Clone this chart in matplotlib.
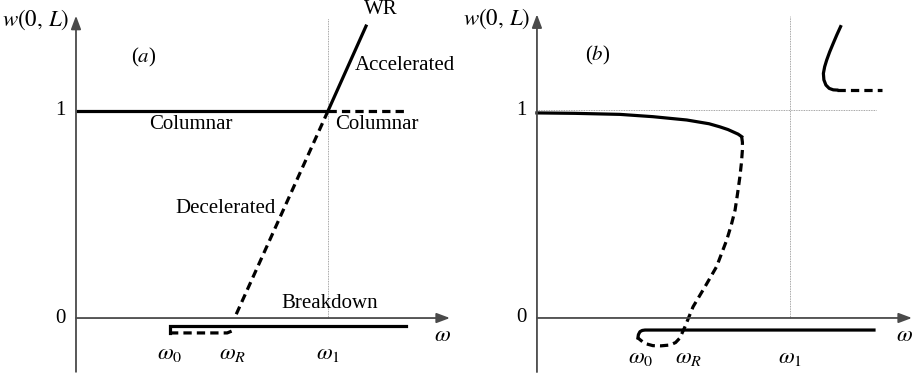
import numpy as np
import matplotlib.pyplot as plt

plt.rcParams['font.family'] = ['Liberation Serif', 'DejaVu Serif']
plt.rcParams['mathtext.fontset'] = 'stix'

# panel (a): piecewise-linear branches (omega_1 = 1, columnar state = 1)
a_columnar_x = [0.0, 1.0]
a_columnar_y = [1.0, 1.0]
a_columnar_dash_x = [1.0, 1.317]
a_columnar_dash_y = [1.0, 1.0]
a_accel_x = [1.0, 1.151]
a_accel_y = [1.0, 1.41]
a_decel_x = [1.0, 0.631]
a_decel_y = [1.0, 0.005]
a_break_x = [0.373, 0.373, 1.31]
a_break_y = [-0.072, -0.039, -0.039]
a_break_dash_x = [0.373, 0.60, 0.62, 0.631]
a_break_dash_y = [-0.072, -0.072, -0.062, -0.039]

# panel (b): smooth branches
b_upper_x = [0.0, 0.15, 0.328, 0.458, 0.592, 0.680, 0.723, 0.755, 0.775, 0.795, 0.809]
b_upper_y = [0.986, 0.984, 0.979, 0.968, 0.952, 0.934, 0.919, 0.906, 0.895, 0.884, 0.872]
b_mid_x = [0.809, 0.812, 0.812, 0.808, 0.802, 0.793, 0.783, 0.768, 0.750, 0.710, 0.664,
           0.617, 0.585, 0.565, 0.548, 0.526, 0.490, 0.458, 0.425, 0.399]
b_mid_y = [0.872, 0.845, 0.808, 0.745, 0.679, 0.600, 0.519, 0.447, 0.375, 0.247, 0.150,
           0.054, -0.042, -0.096, -0.118, -0.130, -0.134, -0.133, -0.122, -0.096]
b_low_x = [0.399, 0.401, 0.407, 0.416, 0.427, 1.332]
b_low_y = [-0.096, -0.080, -0.066, -0.060, -0.058, -0.058]
b_wr_x = [1.200, 1.185, 1.171, 1.157, 1.145, 1.137, 1.132, 1.134, 1.142, 1.155, 1.171, 1.185]
b_wr_y = [1.401, 1.361, 1.321, 1.280, 1.240, 1.208, 1.176, 1.145, 1.120, 1.104, 1.097, 1.096]
b_wr_dash_x = [1.185, 1.362]
b_wr_dash_y = [1.096, 1.096]

omega_ticks_a = [0.373, 0.62, 1.0]
omega_ticks_b = [0.41, 0.60, 1.0]
omega_labels = [r'$\omega_0$', r'$\omega_R$', r'$\omega_1$']

fig = plt.figure(figsize=(9.16, 3.76), dpi=100)
ax_a = fig.add_axes([0, 0, 458 / 916, 1])
ax_b = fig.add_axes([458 / 916, 0, 458 / 916, 1])

LW = 2.3
DASH = (0, (2.6, 1.6))
FS = 15
FS_MATH = 16.5
AXC = '#4a4a4a'


def draw_frame(ax, xlim, ylim, xarrow, yarrow, ybottom):
    ax.set_xlim(*xlim)
    ax.set_ylim(*ylim)
    ax.axis('off')
    arrow = dict(arrowstyle='-|>,head_length=0.8,head_width=0.3', color=AXC, lw=1.3,
                 shrinkA=0, shrinkB=0)
    ax.annotate('', xy=(xarrow, 0), xytext=(0, 0), arrowprops=arrow)
    ax.annotate('', xy=(0, yarrow), xytext=(0, ybottom), arrowprops=arrow)
    ax.text(-0.04, 1.0, '1', ha='right', va='center', fontsize=FS)
    ax.text(-0.04, 0.0, '0', ha='right', va='center', fontsize=FS)
    ax.text(-0.16, yarrow - 0.02, r'$w(0,\, L)$', ha='center', va='center', fontsize=FS_MATH)
    ax.text(xarrow - 0.03, -0.085, r'$\omega$', ha='center', va='center', fontsize=FS_MATH)


# ---- panel (a)
draw_frame(ax_a, (-0.3016, 1.516), (-0.280, 1.536), 1.484, 1.46, -0.26)
ax_a.plot([1.0, 1.0], [0.0, 1.45], color='#888888', lw=0.6, ls=(0, (1, 1)))
ax_a.plot(a_columnar_x, a_columnar_y, color='k', lw=LW, solid_capstyle='butt')
ax_a.plot(a_columnar_dash_x, a_columnar_dash_y, color='k', lw=LW, ls=DASH)
ax_a.plot(a_accel_x, a_accel_y, color='k', lw=LW)
ax_a.plot(a_decel_x, a_decel_y, color='k', lw=LW, ls=DASH)
ax_a.plot(a_break_x, a_break_y, color='k', lw=LW, solid_joinstyle='miter')
ax_a.plot(a_break_dash_x, a_break_dash_y, color='k', lw=LW, ls=DASH)
for x, lab in zip(omega_ticks_a, omega_labels):
    ax_a.text(x, -0.17, lab, ha='center', va='center', fontsize=FS_MATH)
ax_a.text(0.27, 1.26, '($a$)', ha='center', va='center', fontsize=FS)
ax_a.text(1.21, 1.49, 'WR', ha='center', va='center', fontsize=FS)
ax_a.text(1.105, 1.22, 'Accelerated', ha='left', va='center', fontsize=FS)
ax_a.text(0.455, 0.935, 'Columnar', ha='center', va='center', fontsize=FS)
ax_a.text(1.195, 0.935, 'Columnar', ha='center', va='center', fontsize=FS)
ax_a.text(0.595, 0.53, 'Decelerated', ha='center', va='center', fontsize=FS)
ax_a.text(1.007, 0.07, 'Breakdown', ha='center', va='center', fontsize=FS)

# ---- panel (b)
draw_frame(ax_b, (-0.312, 1.498), (-0.279, 1.529), 1.482, 1.46, -0.26)
ax_b.plot([1.0, 1.0], [0.0, 1.45], color='#888888', lw=0.6, ls=(0, (1, 1)))
ax_b.plot([0.0, 1.34], [1.0, 1.0], color='#888888', lw=0.6, ls=(0, (1, 1)))
ax_b.plot(b_upper_x, b_upper_y, color='k', lw=LW)
ax_b.plot(b_mid_x, b_mid_y, color='k', lw=LW, ls=DASH)
ax_b.plot(b_low_x, b_low_y, color='k', lw=LW)
ax_b.plot(b_wr_x, b_wr_y, color='k', lw=LW)
ax_b.plot(b_wr_dash_x, b_wr_dash_y, color='k', lw=LW, ls=DASH)
for x, lab in zip(omega_ticks_b, omega_labels):
    ax_b.text(x, -0.19, lab, ha='center', va='center', fontsize=FS_MATH)
ax_b.text(0.24, 1.26, '($b$)', ha='center', va='center', fontsize=FS)

fig.savefig('out.png', dpi=100)
